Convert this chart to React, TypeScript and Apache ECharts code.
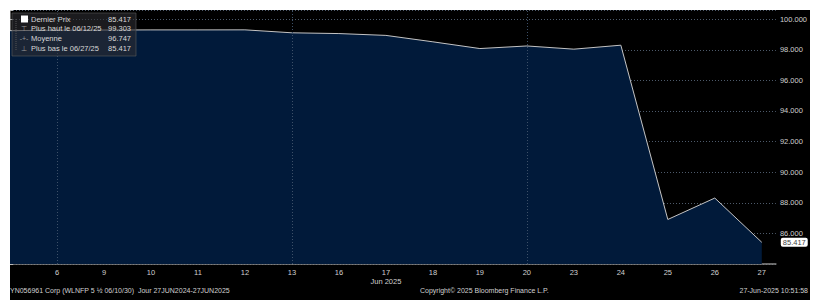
import React, { useEffect, useRef } from "react";
import * as echarts from "echarts";

// Trading days (index 0 = Jun 5, unlabeled at left edge)
const dayLabels = ["5", "6", "9", "10", "11", "12", "13", "16", "17", "18", "19", "20", "23", "24", "25", "26", "27"];
const prices = [99.25, 99.28, 99.29, 99.3, 99.3, 99.303, 99.11, 99.06, 98.94, 98.52, 98.08, 98.25, 98.04, 98.3, 86.91, 88.31, 85.417];
const monthLabelIndex = 8;
const monthLabel = "Jun 2025";
const weekGridIdx = [1, 6, 11];
const yTicks = [86, 88, 90, 92, 94, 96, 98, 100];

const legendNames = ["Dernier Prix", "Plus haut le 06/12/25", "Moyenne", "Plus bas le 06/27/25"];
const legendValues = ["85.417", "99.303", "96.747", "85.417"];
const footerLeft = "YN056961 Corp (WLNFP 5 \u00BD 06/10/30)  Jour 27JUN2024-27JUN2025";
const footerMid = "Copyright\u00A9 2025 Bloomberg Finance L.P.";
const footerRight = "27-Jun-2025 10:51:58";

const FONT = "Liberation Sans";

export default function App() {
  const ref = useRef<HTMLDivElement>(null);
  useEffect(() => {
    if (!ref.current) return;
    const chart = echarts.init(ref.current, undefined, { renderer: "svg" });
    const data = prices.map((v, i) => [i, v]);
    const legendRows = legendNames.map((n, i) => ({ n, v: legendValues[i], y: 9 + i * 9.7 }));
    const symbols = ["", "\u22A4", "-+-", "\u22A5"];
    const graphics: any[] = [
      {
        type: "rect",
        shape: { x: 2, y: 3, width: 124, height: 43 },
        style: { fill: "rgba(45,45,50,0.6)", stroke: "rgba(90,90,90,0.6)", lineWidth: 1 },
        z: 100,
      },
      {
        type: "line",
        shape: { x1: 6, y1: 9, x2: 6, y2: 40 },
        style: { stroke: "#555", lineWidth: 1, lineDash: [1, 1] },
        z: 101,
      },
      {
        type: "rect",
        shape: { x: 11, y: 5.5, width: 7, height: 7 },
        style: { fill: "#ffffff" },
        z: 101,
      },
    ];
    legendRows.forEach((r, i) => {
      graphics.push({
        type: "text",
        x: 21,
        y: r.y,
        style: { text: r.n, fill: "#d8d8d8", font: `7.5px "${FONT}"`, textVerticalAlign: "middle" },
        z: 101,
      });
      graphics.push({
        type: "text",
        x: 121,
        y: r.y,
        style: { text: r.v, fill: "#d8d8d8", font: `7.5px "${FONT}"`, textAlign: "right", textVerticalAlign: "middle" },
        z: 101,
      });
      if (symbols[i]) {
        graphics.push({
          type: "text",
          x: 14,
          y: r.y,
          style: { text: symbols[i], fill: "#999", font: `7px "${FONT}"`, textAlign: "center", textVerticalAlign: "middle" },
          z: 101,
        });
      }
    });
    graphics.push(
      { type: "text", x: 0, y: 280, style: { text: footerLeft, fill: "#d0d0d0", font: `7px "${FONT}"`, textVerticalAlign: "middle" } },
      { type: "text", x: 410, y: 280, style: { text: footerMid, fill: "#d0d0d0", font: `7px "${FONT}"`, textVerticalAlign: "middle" } },
      { type: "text", x: 798, y: 280, style: { text: footerRight, fill: "#d0d0d0", font: `7px "${FONT}"`, textAlign: "right", textVerticalAlign: "middle" } }
    );

    chart.setOption({
      animation: false,
      backgroundColor: "#000000",
      grid: { left: 0, top: 0, right: 33, bottom: 36, containLabel: false },
      xAxis: {
        type: "value",
        min: 0,
        max: 16.3,
        interval: 1,
        axisLine: { show: true, lineStyle: { color: "#8a8a8a", width: 1.5 } },
        axisTick: { show: false },
        splitLine: { show: false },
        axisLabel: {
          color: "#d0d0d0",
          fontFamily: FONT,
          fontSize: 7.5,
          margin: 4,
          lineHeight: 9,
          showMinLabel: false,
          showMaxLabel: false,
          formatter: (v: number) => {
            if (v < 1 || Math.round(v) !== v || v >= dayLabels.length) return "";
            return v === monthLabelIndex ? `${dayLabels[v]}\n${monthLabel}` : dayLabels[v];
          },
        },
      },
      yAxis: {
        type: "value",
        position: "right",
        min: 84,
        max: 100.6,
        interval: 2,
        axisLine: { show: true, lineStyle: { color: "#8a8a8a", width: 1.5 } },
        axisTick: { show: true, inside: false, length: 3, lineStyle: { color: "#bbbbbb" } },
        minorTick: { show: true, splitNumber: 2, length: 2, lineStyle: { color: "#888" } },
        splitLine: { show: true, lineStyle: { color: "#4d5a6a", type: [1, 2], width: 1 } },
        axisLabel: {
          color: "#d0d0d0",
          fontFamily: FONT,
          fontSize: 7.5,
          margin: 4,
          showMinLabel: false,
          showMaxLabel: false,
          formatter: (v: number) => (yTicks.indexOf(v) >= 0 ? v.toFixed(3) : ""),
        },
      },
      series: [
        {
          type: "line",
          data,
          symbol: "none",
          lineStyle: { color: "#c4c4c4", width: 1 },
          areaStyle: { color: "#011a3a", opacity: 1 },
          z: 1,
          endLabel: {
            show: true,
            formatter: (p: any) => p.value[1].toFixed(3),
            backgroundColor: "#ffffff",
            color: "#444",
            fontFamily: FONT,
            fontSize: 7.5,
            padding: [1, 2, 0, 2],
            borderRadius: 2,
            offset: [11, 0],
          },
          markLine: {
            silent: true,
            symbol: "none",
            label: { show: false },
            lineStyle: { color: "#3d5068", type: [1, 2], width: 1 },
            data: weekGridIdx.map((i) => ({ xAxis: i })),
          },
        },
      ],
      graphic: graphics,
    });
    return () => chart.dispose();
  }, []);

  return (
    <div style={{ position: "absolute", left: 0, top: 0, width: 816, height: 302, background: "#ffffff" }}>
      <div ref={ref} style={{ position: "absolute", left: 10, top: 10, width: 800, height: 290 }} />
    </div>
  );
}
